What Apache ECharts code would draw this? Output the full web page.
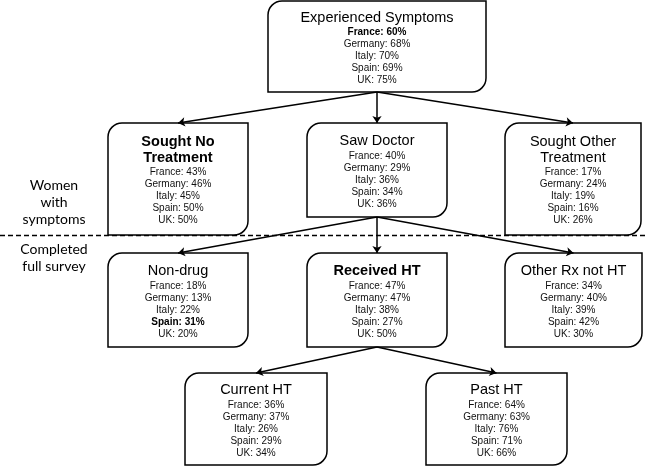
<!DOCTYPE html>
<html>
<head>
<meta charset="utf-8">
<title>Symptoms flow</title>
<script src="https://cdn.jsdelivr.net/npm/echarts@6/dist/echarts.min.js"></script>
<style>
  html, body { margin: 0; padding: 0; background: #fff; }
  #main { width: 646px; height: 466px; }
</style>
</head>
<body>
<div id="main"></div>
<script>
// data
const countries = ['France', 'Germany', 'Italy', 'Spain', 'UK']
const nodeTitles = [
  ['Experienced Symptoms'],
  ['Sought No', 'Treatment'],
  ['Saw Doctor'],
  ['Sought Other', 'Treatment'],
  ['Non-drug'],
  ['Received HT'],
  ['Other Rx not HT'],
  ['Current HT'],
  ['Past HT']
]
const experienced = [60, 68, 70, 69, 75]
const soughtNoTreatment = [43, 46, 45, 50, 50]
const sawDoctor = [40, 29, 36, 34, 36]
const soughtOther = [17, 24, 19, 16, 26]
const nonDrug = [18, 13, 22, 31, 20]
const receivedHT = [47, 47, 38, 27, 50]
const otherRx = [34, 40, 39, 42, 30]
const currentHT = [36, 37, 26, 29, 34]
const pastHT = [64, 63, 76, 71, 66]
const nodeValues = [experienced, soughtNoTreatment, sawDoctor, soughtOther, nonDrug, receivedHT, otherRx, currentHT, pastHT]
const links = [[0, 1], [0, 2], [0, 3], [2, 4], [2, 5], [2, 6], [5, 7], [5, 8]]
const boldTitles = [1, 5]
const boldCells = [[0, 0], [4, 3]]
const sideLabels = ['Women\nwith\nsymptoms', 'Completed\nfull survey']

// layout (x, y, w, h in px)
const boxLayout = [
  [268, 1, 218, 91],
  [108, 123, 140, 112],
  [307, 123, 140, 94],
  [505, 123, 136, 112],
  [108, 253, 140, 94],
  [307, 253, 140, 94],
  [505, 253, 137, 94],
  [185, 373, 142, 92],
  [426, 373, 141, 92]
]
const dividerY = 235

function boxText(i) {
  const tStyle = boldTitles.includes(i) ? 'tb' : 't'
  const lh = nodeTitles[i].length > 1 ? 't2' : ''
  let s = nodeTitles[i].map(l => '{' + tStyle + lh + '|' + l + '}').join('\n')
  countries.forEach((c, j) => {
    const b = boldCells.some(p => p[0] == i && p[1] == j)
    s += '\n{' + (b ? 'cb' : 'c') + '|' + c + ': ' + nodeValues[i][j] + '%}'
  })
  return s
}

const richStyles = {
  t: { fontSize: 14.5, lineHeight: 18, fontFamily: 'Liberation Sans', fill: '#000' },
  tb: { fontSize: 14.5, lineHeight: 18, fontWeight: 'bold', fontFamily: 'Liberation Sans', fill: '#000' },
  tt2: { fontSize: 14.5, lineHeight: 16, fontFamily: 'Liberation Sans', fill: '#000' },
  tbt2: { fontSize: 14.5, lineHeight: 16, fontWeight: 'bold', fontFamily: 'Liberation Sans', fill: '#000' },
  c: { fontSize: 10, lineHeight: 12, fontFamily: 'Liberation Sans', fill: '#111' },
  cb: { fontSize: 10, lineHeight: 12, fontWeight: 'bold', fontFamily: 'Liberation Sans', fill: '#000' }
}

const linkData = links.map(l => {
  const s = boxLayout[l[0]]
  const t = boxLayout[l[1]]
  return { coords: [[s[0] + s[2] / 2, s[1] + s[3]], [t[0] + t[2] / 2, t[1]]] }
})

var myChart = echarts.init(document.getElementById('main'))
myChart.setOption({
  animation: false,
  grid: { left: 0, right: 0, top: 0, bottom: 0 },
  xAxis: { type: 'value', min: 0, max: 646, show: false },
  yAxis: { type: 'value', min: 0, max: 466, inverse: true, show: false },
  graphic: sideLabels.map((t, i) => ({
    type: 'text',
    x: 54,
    y: i == 0 ? 177 : 241,
    style: {
      text: t,
      align: 'center',
      fontSize: 14,
      lineHeight: 17,
      fontFamily: 'Lato',
      fill: '#000'
    }
  })),
  series: [
    {
      type: 'lines',
      coordinateSystem: 'cartesian2d',
      z: 1,
      silent: true,
      data: [{ coords: [[0, dividerY], [646, dividerY]] }],
      lineStyle: { color: '#000', width: 1.3, type: [5, 3], opacity: 1 }
    },
    {
      type: 'custom',
      z: 2,
      silent: true,
      data: boxLayout.map((b, i) => [b[0], b[1], b[2], b[3], i]),
      encode: { x: 0, y: 1 },
      renderItem: function (params, api) {
        const x = api.value(0), y = api.value(1), w = api.value(2), h = api.value(3)
        const i = api.value(4)
        const p0 = api.coord([x, y])
        const p1 = api.coord([x + w, y + h])
        return {
          type: 'group',
          children: [
            {
              type: 'rect',
              shape: { x: p0[0], y: p0[1], width: p1[0] - p0[0], height: p1[1] - p0[1], r: [14, 0, 14, 0] },
              style: { fill: '#fff', stroke: '#000', lineWidth: 1.5 }
            },
            {
              type: 'text',
              x: (p0[0] + p1[0]) / 2,
              y: (p0[1] + p1[1]) / 2 + 1,
              style: {
                text: boxText(i),
                rich: richStyles,
                align: 'center',
                verticalAlign: 'middle'
              }
            }
          ]
        }
      }
    },
    {
      type: 'lines',
      coordinateSystem: 'cartesian2d',
      z: 3,
      silent: true,
      symbol: ['none', 'arrow'],
      symbolSize: 7,
      data: linkData,
      lineStyle: { color: '#000', width: 1.5, opacity: 1 }
    }
  ]
})
</script>
</body>
</html>
